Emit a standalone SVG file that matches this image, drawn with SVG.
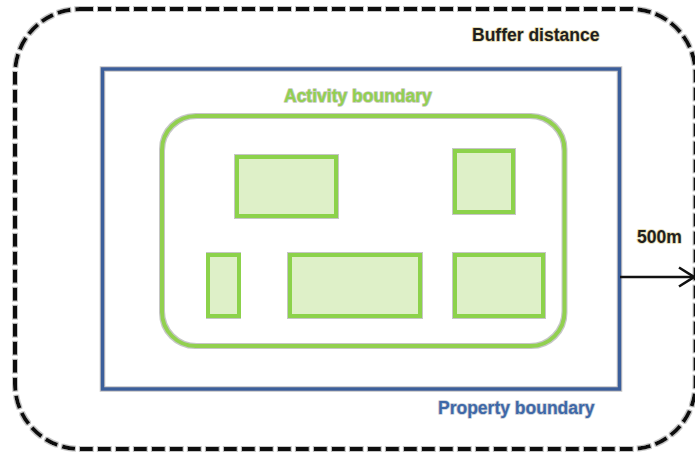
<svg xmlns="http://www.w3.org/2000/svg" width="695" height="454" viewBox="0 0 695 454">
  <defs>
    <!-- soft grey rim around strokes -->
    <filter id="rim" x="-5%" y="-5%" width="110%" height="110%">
      <feMorphology in="SourceAlpha" operator="dilate" radius="0.9" result="grown"/>
      <feFlood flood-color="#b8b8b8" flood-opacity="0.8"/>
      <feComposite in2="grown" operator="in" result="edge"/>
      <feMerge>
        <feMergeNode in="edge"/>
        <feMergeNode in="SourceGraphic"/>
      </feMerge>
    </filter>
  </defs>
  <style>
    .label { font-family: "Liberation Sans", Arial, sans-serif; font-weight: bold; font-size: 17.5px; paint-order: stroke; stroke-width: 1.6px; stroke-linejoin: round; }
    .buffer-line { fill: none; stroke: #111; stroke-width: 4; stroke-dasharray: 13 5; }
    .property-line { fill: none; stroke: #3A5F9B; stroke-width: 3.6; }
    .activity-line { fill: none; stroke: #92D050; stroke-width: 4; }
    .block { fill: #DEF0C8; stroke: #8CD24C; stroke-width: 4; }
    .arrow { fill: none; stroke: #111; stroke-width: 2.6; stroke-linejoin: miter; }
  </style>

  <rect width="695" height="454" fill="#ffffff"/>

  <g id="buffer">
    <rect class="buffer-line" filter="url(#rim)" x="15" y="9" width="680.5" height="440" rx="65" ry="65"/>
    <text class="label" x="472" y="41" fill="#1f1f1f" stroke="#e2d6a6">Buffer distance</text>
  </g>

  <g id="property">
    <rect class="property-line" filter="url(#rim)" x="102.5" y="69" width="517" height="320"/>
    <text class="label" x="438" y="414" fill="#3E68A8" stroke="#c8ccd4">Property boundary</text>
  </g>

  <g id="activity">
    <rect class="activity-line" filter="url(#rim)" x="162" y="116" width="402.5" height="230" rx="34" ry="34"/>
    <text class="label" x="284" y="102" fill="#92D050" stroke="#c6c9c0">Activity boundary</text>
  </g>

  <g id="block-1" filter="url(#rim)">
    <rect class="block" x="237" y="157" width="99" height="59"/>
  </g>
  <g id="block-2" filter="url(#rim)">
    <rect class="block" x="455" y="151" width="58" height="61"/>
  </g>
  <g id="block-3" filter="url(#rim)">
    <rect class="block" x="208" y="255" width="31" height="61"/>
  </g>
  <g id="block-4" filter="url(#rim)">
    <rect class="block" x="290" y="255" width="130" height="61"/>
  </g>
  <g id="block-5" filter="url(#rim)">
    <rect class="block" x="455" y="255" width="88" height="61"/>
  </g>

  <g id="connectors">
    <line class="arrow" x1="620" y1="277" x2="693" y2="277"/>
    <polyline class="arrow" points="679,267.5 694,277 679,286.5"/>
    <text class="label" x="637" y="243" fill="#1f1f1f" stroke="#e2d6a6">500m</text>
  </g>
</svg>
